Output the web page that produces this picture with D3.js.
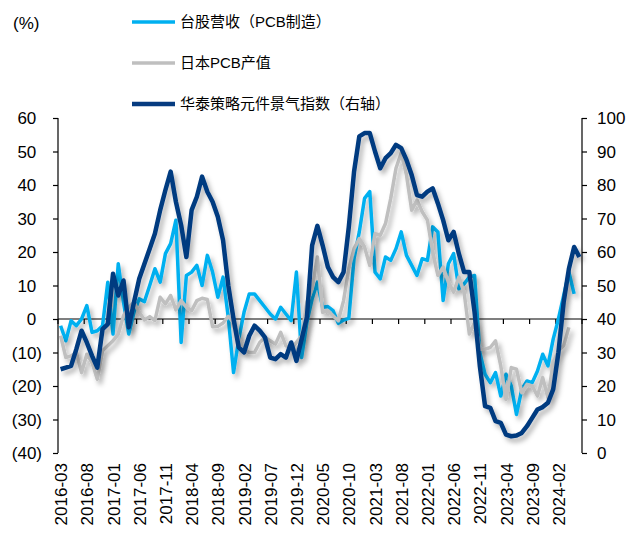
<!DOCTYPE html>
<html lang="zh">

<head>
    <meta charset="utf-8">
    <title>PCB景气</title>
    <script src="https://cdn.jsdelivr.net/npm/d3@7"></script>
    <style type="text/css">
        body {
            margin: 0;
            background: #fff;
        }

        text {
            font-family: "Liberation Sans", Arial, "Noto Sans CJK SC", sans-serif;
            fill: #000;
        }

        .legend text {
            font-family: "Liberation Sans", "Noto Sans CJK SC", sans-serif;
            font-size: 15px;
        }
    </style>
</head>

<body>
</body>
<script type="text/javascript">

    // months 2016-03 .. 2024-06
    var months = d3.timeMonth.range(new Date(2016, 2, 1), new Date(2024, 6, 1)).map(d3.timeFormat("%Y-%m"));

    var leftTicks = [-40, -30, -20, -10, 0, 10, 20, 30, 40, 50, 60];
    var rightTicks = [0, 10, 20, 30, 40, 50, 60, 70, 80, 90, 100];

    // 台股营收（PCB制造）, %
    var taiwan = [-2, -6.5, -0.5, -2, 0, 4, -4, -3.5, -2, 11,
        -4.5, 16.5, 5, -4.5, 2, 6, 5.2, 10, 15, 11,
        19.5, 22.5, 29.5, -7, 13, 14, 16, 10, 19, 14,
        6.5, 12.5, 0.5, -16, -6, 2, 7.5, 7.5, 5.5, 3.5,
        1.5, 0, 3.5, 1.5, -0.5, 14, -11.5, -1, 6, 11,
        3.5, 3.7, 2.5, -1.3, -0.3, 0.2, 18, 26, 36, 38,
        14, 12, 18.5, 17.5, 21, 26, 19, 16, 13, 18,
        17.5, 27.5, 26, 5.5, 16.5, 19.5, 9, 10.5, 12.5, 13,
        -10, -16.5, -19, -16, -23, -16.5, -20, -28.5, -21, -18.5,
        -19, -15.5, -10.5, -14, -6, 0, 7, 14, 7.5, null];

    // 日本PCB产值, %
    var japan = [-5, -11.5, -11, -10, -16, -10.5, -13, -18, -9.5, -8,
        -6.5, -4.5, 1, 3.5, 5, 2, -0.3, 0.7, -0.5, 6.5,
        4.5, 7, 2.7, 5.5, 3.5, 2.5, 5.5, 6.2, 5.8, -2.3,
        -2.2, -1.2, 0.8, -1, -6, -9, -10, -10, -7, -5.5,
        -6.5, -7.5, -4, -8, -9, -7, -5, 5, 9, 18.5,
        2, 2.5, 1, -0.5, 5.5, 15, 21, 24, 21.5, 16,
        25.5, 25, 28.5, 36, 45, 49.5, 43, 32.5, 35.5, 32,
        29.5, 20, 13, 15.5, 11, 8, 12.5, 8, -4.5, -1,
        -9, -9, -8.5, -6.5, -14, -24, -14.5, -15, -22, -19.5,
        -20, -23, -17.5, -23.5, -13, -9.5, -8, -2.5, null, null];

    // 华泰策略元件景气指数（右轴）
    var index = [25, 25.5, 26, 31, 36.5, 33, 29, 25.5, 37, 38.5,
        53.5, 47, 51.5, 37.5, 45, 52, 56.5, 61, 65.5, 72.5,
        78.5, 84, 75, 68, 58.5, 72.5, 76.5, 82.5, 78, 75,
        70.5, 63.5, 50, 40, 31.5, 30, 35, 38, 36.5, 34.5,
        28.5, 28, 29.5, 28.5, 33, 27.5, 34, 40.5, 62, 67.8,
        62, 55.5, 52.5, 51, 54, 67.5, 84, 94.5, 95.5, 95.5,
        90, 85, 88, 89.5, 92, 91, 87.5, 83, 77, 76.5,
        78, 79, 74.5, 69.5, 63.5, 66, 59.5, 54, 54, 42,
        26, 14, 13.5, 9.5, 9, 5.5, 5, 5.2, 6, 8,
        10.5, 13, 13.7, 15, 19, 30, 45, 55, 61.5, 58.5];

    var series = [
        { name: "台股营收（PCB制造）", values: taiwan, color: "#00B0F0", width: 3.5, axis: "left" },
        { name: "日本PCB产值", values: japan, color: "#BFBFBF", width: 3.5, axis: "left" },
        { name: "华泰策略元件景气指数（右轴）", values: index, color: "#063B80", width: 4.5, axis: "right" }
    ];

    var W = 642, H = 533;
    var mLeft = 58, mRight = 582, mTop = 118, mBottom = 453;

    var svg = d3.select("body")
        .append("svg")
        .attr("width", W)
        .attr("height", H);

    var defs = svg.append("defs");
    defs.append("filter")
        .attr("id", "shadow")
        .attr("x", "-10%").attr("y", "-10%")
        .attr("width", "130%").attr("height", "130%")
        .append("feDropShadow")
        .attr("dx", 3).attr("dy", 4)
        .attr("stdDeviation", 2.5)
        .attr("flood-color", "#000")
        .attr("flood-opacity", 0.3);

    var x = d3.scaleBand()
        .domain(months)
        .range([mLeft, mRight])
        .paddingInner(0);

    var yL = d3.scaleLinear().domain([-40, 60]).range([mBottom, mTop]);
    var yR = d3.scaleLinear().domain([0, 100]).range([mBottom, mTop]);

    var fmt = function (v) { return v < 0 ? "(" + Math.abs(v) + ")" : String(v); };

    // left axis
    var gl = svg.append("g")
        .attr("transform", "translate(" + mLeft + ",0)")
        .call(d3.axisLeft(yL).tickValues(leftTicks).tickSize(5).tickPadding(0).tickFormat(fmt));
    gl.select(".domain").attr("stroke", "#000").attr("stroke-width", 1.2).attr("d", "M0," + mTop + "V" + mBottom);
    gl.selectAll(".tick line").attr("stroke", "#000").attr("stroke-width", 1.2);
    gl.selectAll(".tick text")
        .attr("font-size", 17)
        .attr("x", function (d) { return d < 0 ? -16 : -21.7; })
        .attr("dy", "0.35em");

    // right axis
    var gr = svg.append("g")
        .attr("transform", "translate(" + mRight + ",0)")
        .call(d3.axisRight(yR).tickValues(rightTicks).tickSize(5).tickFormat(d3.format("d")));
    gr.select(".domain").attr("stroke", "#000").attr("stroke-width", 1.2).attr("d", "M0," + mTop + "V" + mBottom);
    gr.selectAll(".tick line").attr("stroke", "#000").attr("stroke-width", 1.2);
    gr.selectAll(".tick text")
        .attr("font-size", 17)
        .attr("x", 15)
        .attr("dy", "0.35em");

    // category axis sits on zero
    var tickIdx = d3.range(0, months.length + 1, 5);
    var gx = svg.append("g");
    gx.append("line")
        .attr("x1", mLeft).attr("x2", mRight)
        .attr("y1", yL(0)).attr("y2", yL(0))
        .attr("stroke", "#000").attr("stroke-width", 1.2);
    gx.selectAll(".xt")
        .data(tickIdx)
        .enter()
        .append("line")
        .attr("x1", function (i) { return mLeft + i * x.step(); })
        .attr("x2", function (i) { return mLeft + i * x.step(); })
        .attr("y1", yL(0)).attr("y2", yL(0) + 5)
        .attr("stroke", "#000").attr("stroke-width", 1.2);

    svg.append("g")
        .selectAll("text")
        .data(months.filter(function (m, i) { return i % 5 === 0; }))
        .enter()
        .append("text")
        .attr("transform", function (m) {
            return "translate(" + (x(m) + x.bandwidth() / 2 + 1) + "," + (mBottom + 10) + ") rotate(-90)";
        })
        .attr("text-anchor", "end")
        .attr("dominant-baseline", "central")
        .attr("font-size", 17)
        .text(function (m) { return m; });

    // lines
    var plot = svg.append("g");
    series.forEach(function (s) {
        var yy = s.axis === "left" ? yL : yR;
        var line = d3.line()
            .defined(function (d) { return d != null; })
            .x(function (d, i) { return x(months[i]) + x.bandwidth() / 2; })
            .y(function (d) { return yy(d); });
        plot.append("path")
            .datum(s.values)
            .attr("fill", "none")
            .attr("stroke", s.color)
            .attr("stroke-width", s.width)
            .attr("stroke-linejoin", "round")
            .attr("filter", "url(#shadow)")
            .attr("d", line);
    });

    // unit + legend
    svg.append("text")
        .attr("x", 13)
        .attr("y", 29)
        .attr("font-size", 17)
        .text("(%)");

    var legend = svg.append("g").attr("class", "legend");
    var item = legend.selectAll("g")
        .data(series)
        .enter()
        .append("g")
        .attr("transform", function (d, i) { return "translate(132," + (22 + i * 41) + ")"; });
    item.append("line")
        .attr("x1", 0).attr("x2", 43)
        .attr("stroke", function (d) { return d.color; })
        .attr("stroke-width", function (d) { return d.width; });
    item.append("text")
        .attr("x", 48)
        .attr("dy", "0.35em")
        .text(function (d) { return d.name; });

</script>
</html>
